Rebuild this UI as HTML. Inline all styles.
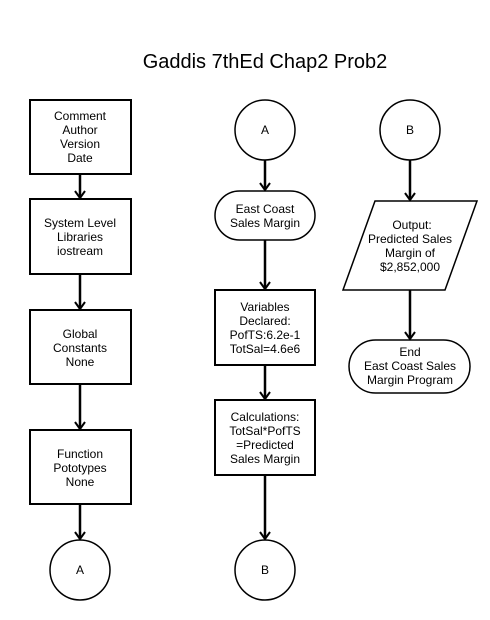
<!DOCTYPE html>
<html><head><style>
body{margin:0;background:#fff}
svg{display:block}
text{font-family:"Liberation Sans",Arial,sans-serif;font-size:12px;fill:#000;text-anchor:middle}
</style></head><body>
<svg width="490" height="620" viewBox="0 0 490 620" xmlns="http://www.w3.org/2000/svg">
<defs>
<marker id="a" markerWidth="12" markerHeight="12" refX="10" refY="6" orient="auto" markerUnits="userSpaceOnUse" viewBox="0 0 12 12">
<polyline points="3,1 10,6 3,11" fill="none" stroke="#000" stroke-width="2"/>
</marker>
</defs>
<text x="265" y="68" style="font-size:20px">Gaddis 7thEd Chap2 Prob2</text>
<g fill="#fff" stroke="#000" stroke-width="2">
<rect x="30" y="100" width="101" height="74"/>
<rect x="30" y="199" width="101" height="75"/>
<rect x="30" y="310" width="101" height="74"/>
<rect x="30" y="430" width="101" height="74"/>
<circle cx="80" cy="570" r="30" stroke-width="1.5"/>
<circle cx="265" cy="130" r="30" stroke-width="1.5"/>
<rect x="215" y="191" width="100" height="49" rx="24.5" stroke-width="1.5"/>
<rect x="215" y="290" width="100" height="75"/>
<rect x="215" y="400" width="100" height="75"/>
<circle cx="265" cy="570" r="30" stroke-width="1.5"/>
<circle cx="410" cy="130" r="30" stroke-width="1.5"/>
<polygon points="375,201 477,201 445,290 343,290" stroke-width="1.5"/>
<rect x="349" y="340" width="121" height="53" rx="26.5" stroke-width="1.5"/>
</g>
<g stroke="#000" stroke-width="2.5" marker-end="url(#a)">
<line x1="80" y1="174" x2="80" y2="198"/>
<line x1="80" y1="274" x2="80" y2="309"/>
<line x1="80" y1="384" x2="80" y2="429"/>
<line x1="80" y1="504" x2="80" y2="539"/>
<line x1="265" y1="160" x2="265" y2="190"/>
<line x1="265" y1="240" x2="265" y2="289"/>
<line x1="265" y1="365" x2="265" y2="399"/>
<line x1="265" y1="475" x2="265" y2="539"/>
<line x1="410" y1="160" x2="410" y2="200"/>
<line x1="410" y1="290" x2="410" y2="339"/>
</g>
<text x="80" y="120">Comment</text><text x="80" y="134">Author</text><text x="80" y="148">Version</text><text x="80" y="162">Date</text>
<text x="80" y="227">System Level</text><text x="80" y="241">Libraries</text><text x="80" y="255">iostream</text>
<text x="80" y="338">Global</text><text x="80" y="352">Constants</text><text x="80" y="366">None</text>
<text x="80" y="458">Function</text><text x="80" y="472">Pototypes</text><text x="80" y="486">None</text>
<text x="80" y="574">A</text>
<text x="265" y="134">A</text>
<text x="265" y="213">East Coast</text><text x="265" y="227">Sales Margin</text>
<text x="265" y="311">Variables</text><text x="265" y="325">Declared:</text><text x="265" y="339">PofTS:6.2e-1</text><text x="265" y="353">TotSal=4.6e6</text>
<text x="265" y="421">Calculations:</text><text x="265" y="435">TotSal*PofTS</text><text x="265" y="449">=Predicted</text><text x="265" y="463">Sales Margin</text>
<text x="265" y="574">B</text>
<text x="410" y="134">B</text>
<text x="412" y="229">Output:</text><text x="410" y="243">Predicted Sales</text><text x="410" y="257">Margin of</text><text x="410" y="271">$2,852,000</text>
<text x="410" y="356">End</text><text x="410" y="370">East Coast Sales</text><text x="410" y="384">Margin Program</text>
</svg>
</body></html>
